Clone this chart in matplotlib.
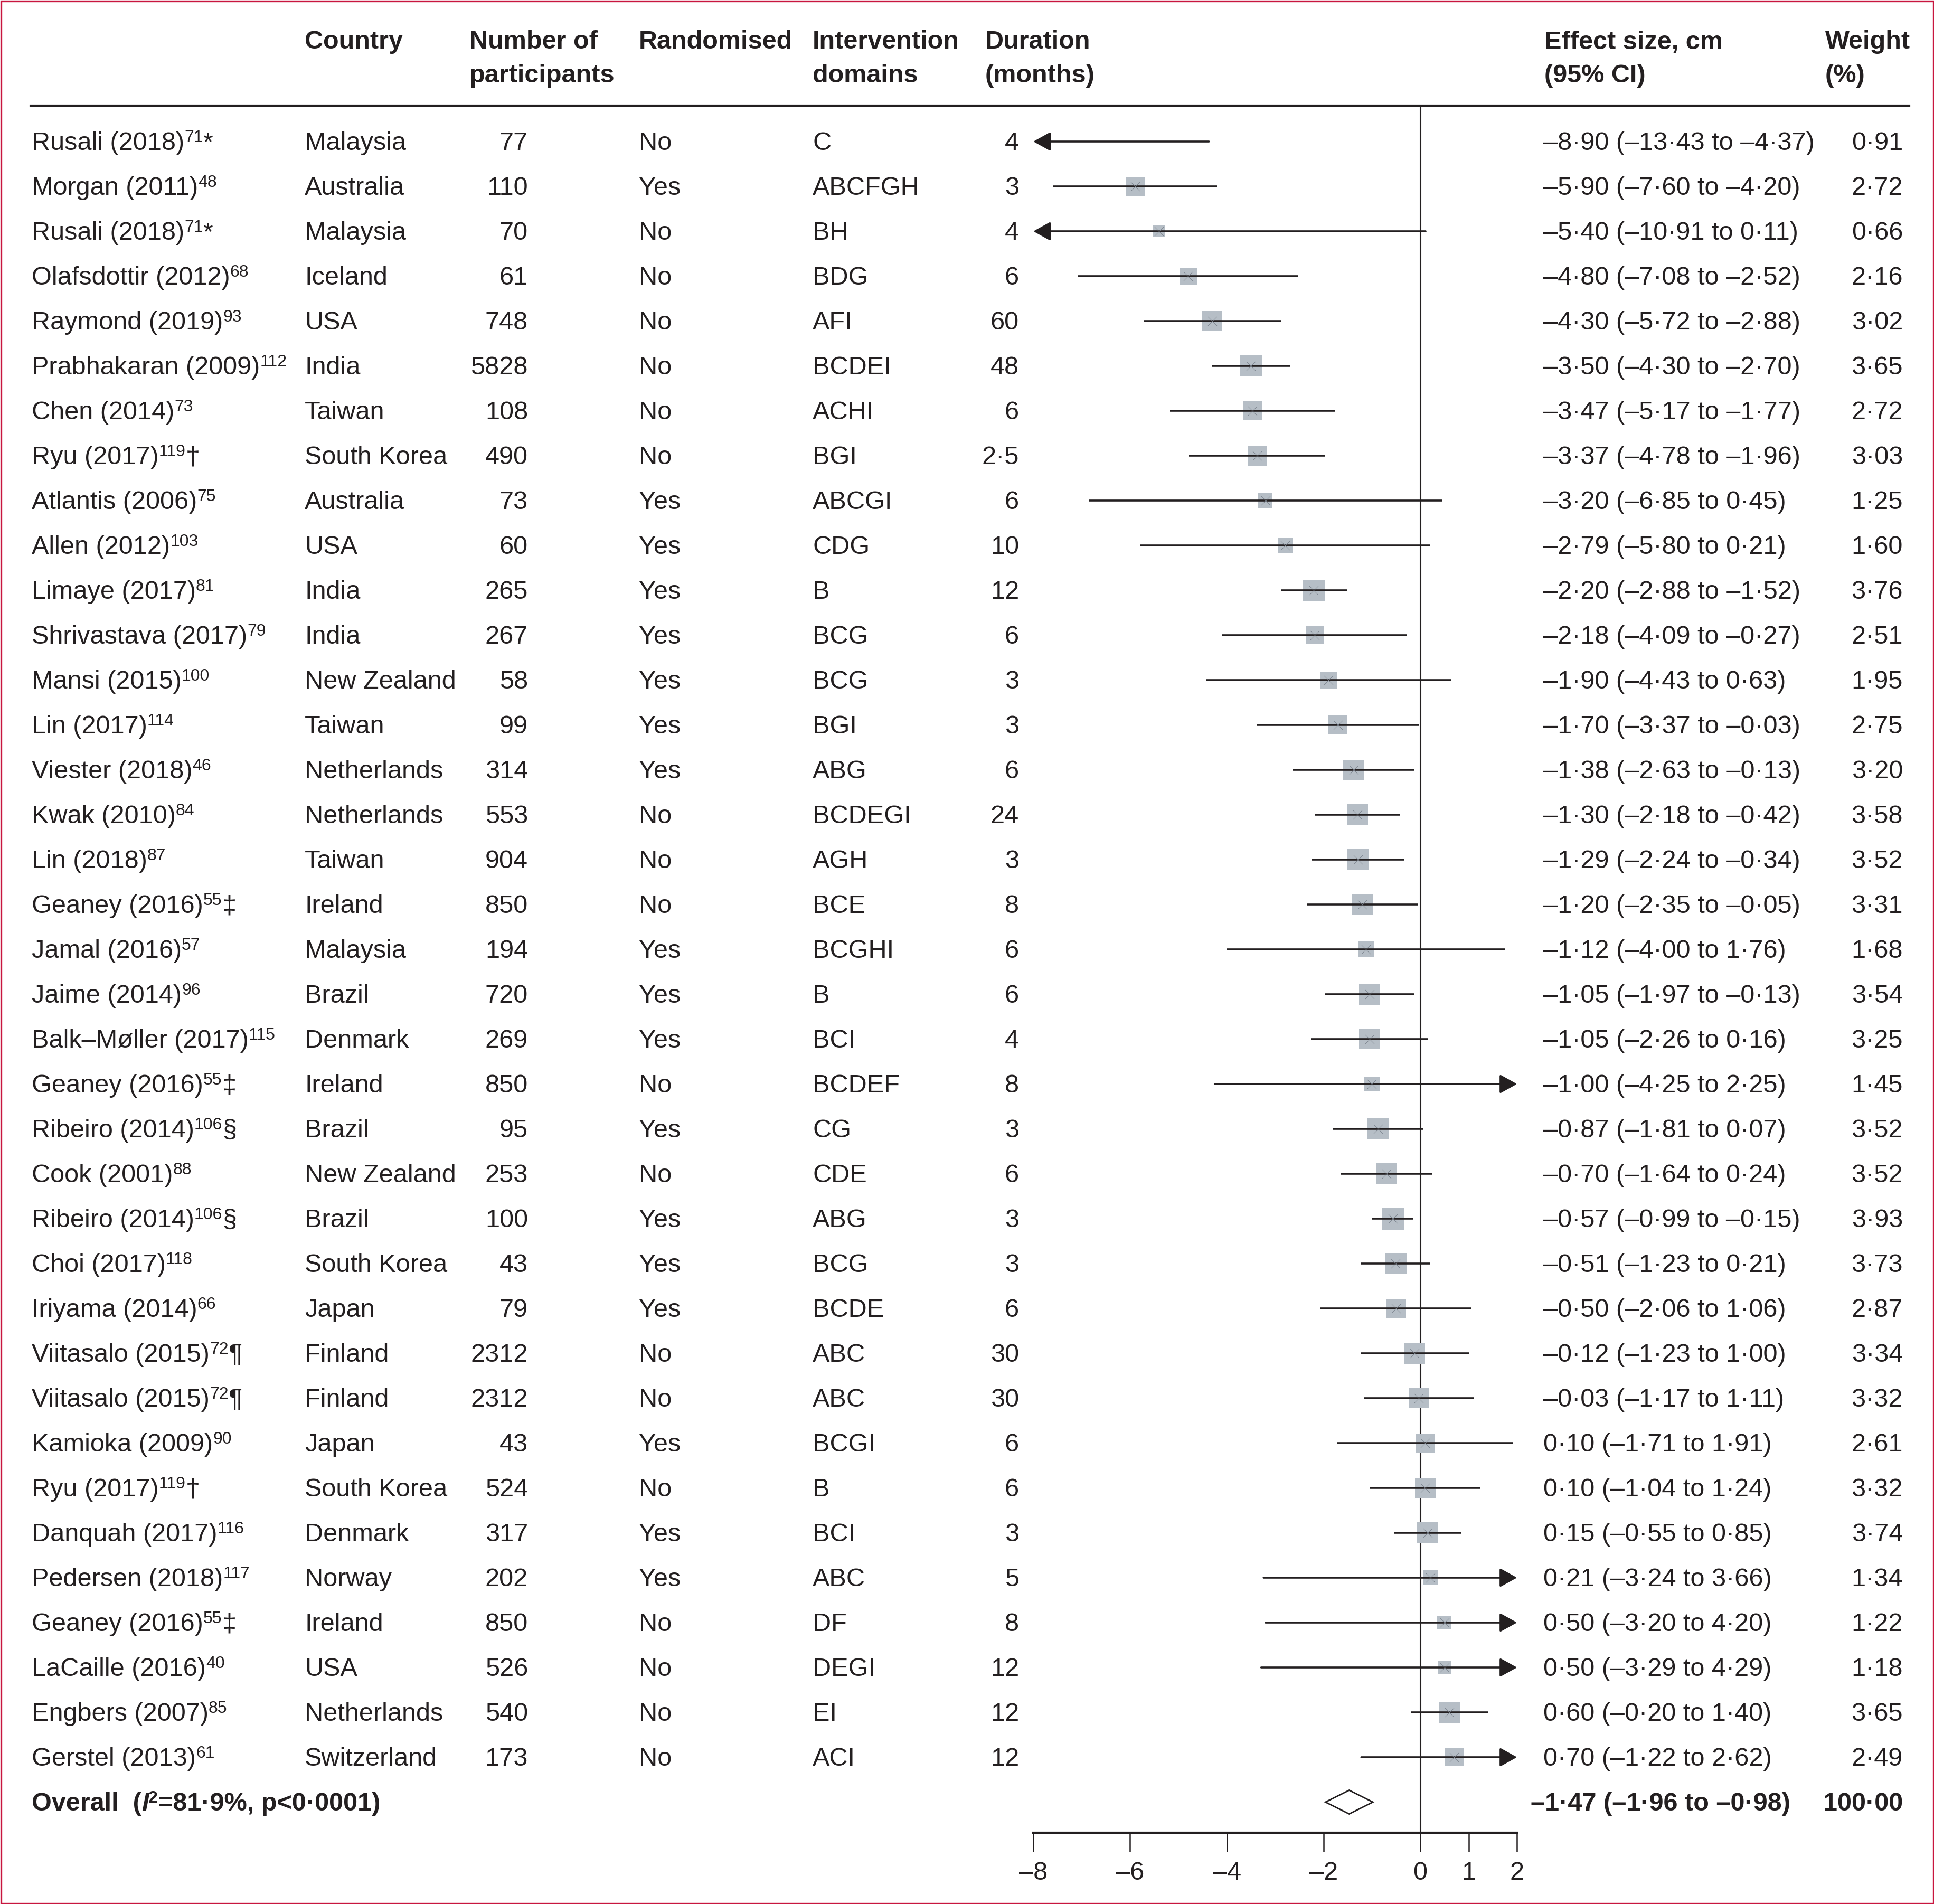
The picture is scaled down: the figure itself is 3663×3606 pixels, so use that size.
import numpy as np
import matplotlib
matplotlib.use('Agg')
import matplotlib.pyplot as plt
from matplotlib import font_manager as fm
from matplotlib.transforms import blended_transform_factory, offset_copy
from matplotlib.patches import Polygon, Rectangle
from matplotlib.ticker import FixedLocator, FuncFormatter

# ---------------- data ----------------
studies = ["Rusali (2018)", "Morgan (2011)", "Rusali (2018)", "Olafsdottir (2012)", "Raymond (2019)",
           "Prabhakaran (2009)", "Chen (2014)", "Ryu (2017)", "Atlantis (2006)", "Allen (2012)",
           "Limaye (2017)", "Shrivastava (2017)", "Mansi (2015)", "Lin (2017)", "Viester (2018)",
           "Kwak (2010)", "Lin (2018)", "Geaney (2016)", "Jamal (2016)", "Jaime (2014)",
           "Balk–Møller (2017)", "Geaney (2016)", "Ribeiro (2014)", "Cook (2001)", "Ribeiro (2014)",
           "Choi (2017)", "Iriyama (2014)", "Viitasalo (2015)", "Viitasalo (2015)", "Kamioka (2009)",
           "Ryu (2017)", "Danquah (2017)", "Pedersen (2018)", "Geaney (2016)", "LaCaille (2016)",
           "Engbers (2007)", "Gerstel (2013)"]
refs = ["71", "48", "71", "68", "93", "112", "73", "119", "75", "103", "81", "79", "100", "114", "46",
        "84", "87", "55", "57", "96", "115", "55", "106", "88", "106", "118", "66", "72", "72", "90",
        "119", "116", "117", "55", "40", "85", "61"]
marks = ["*", "", "*", "", "", "", "", "†", "", "", "", "", "", "", "", "", "", "‡", "", "", "",
         "‡", "§", "", "§", "", "", "¶", "¶", "", "†", "", "", "‡", "", "", ""]
countries = ["Malaysia", "Australia", "Malaysia", "Iceland", "USA", "India", "Taiwan", "South Korea",
             "Australia", "USA", "India", "India", "New Zealand", "Taiwan", "Netherlands", "Netherlands",
             "Taiwan", "Ireland", "Malaysia", "Brazil", "Denmark", "Ireland", "Brazil", "New Zealand",
             "Brazil", "South Korea", "Japan", "Finland", "Finland", "Japan", "South Korea", "Denmark",
             "Norway", "Ireland", "USA", "Netherlands", "Switzerland"]
participants = [77, 110, 70, 61, 748, 5828, 108, 490, 73, 60, 265, 267, 58, 99, 314, 553, 904, 850,
                194, 720, 269, 850, 95, 253, 100, 43, 79, 2312, 2312, 43, 524, 317, 202, 850, 526, 540, 173]
randomised = ["No", "Yes", "No", "No", "No", "No", "No", "No", "Yes", "Yes", "Yes", "Yes", "Yes", "Yes",
              "Yes", "No", "No", "No", "Yes", "Yes", "Yes", "No", "Yes", "No", "Yes", "Yes", "Yes", "No",
              "No", "Yes", "No", "Yes", "Yes", "No", "No", "No", "No"]
domains = ["C", "ABCFGH", "BH", "BDG", "AFI", "BCDEI", "ACHI", "BGI", "ABCGI", "CDG", "B", "BCG", "BCG",
           "BGI", "ABG", "BCDEGI", "AGH", "BCE", "BCGHI", "B", "BCI", "BCDEF", "CG", "CDE", "ABG", "BCG",
           "BCDE", "ABC", "ABC", "BCGI", "B", "BCI", "ABC", "DF", "DEGI", "EI", "ACI"]
duration = [4, 3, 4, 6, 60, 48, 6, 2.5, 6, 10, 12, 6, 3, 3, 6, 24, 3, 8, 6, 6, 4, 8, 3, 6, 3, 3, 6,
            30, 30, 6, 6, 3, 5, 8, 12, 12, 12]
effect = [-8.90, -5.90, -5.40, -4.80, -4.30, -3.50, -3.47, -3.37, -3.20, -2.79, -2.20, -2.18, -1.90,
          -1.70, -1.38, -1.30, -1.29, -1.20, -1.12, -1.05, -1.05, -1.00, -0.87, -0.70, -0.57, -0.51,
          -0.50, -0.12, -0.03, 0.10, 0.10, 0.15, 0.21, 0.50, 0.50, 0.60, 0.70]
ci_low = [-13.43, -7.60, -10.91, -7.08, -5.72, -4.30, -5.17, -4.78, -6.85, -5.80, -2.88, -4.09, -4.43,
          -3.37, -2.63, -2.18, -2.24, -2.35, -4.00, -1.97, -2.26, -4.25, -1.81, -1.64, -0.99, -1.23,
          -2.06, -1.23, -1.17, -1.71, -1.04, -0.55, -3.24, -3.20, -3.29, -0.20, -1.22]
ci_high = [-4.37, -4.20, 0.11, -2.52, -2.88, -2.70, -1.77, -1.96, 0.45, 0.21, -1.52, -0.27, 0.63,
           -0.03, -0.13, -0.42, -0.34, -0.05, 1.76, -0.13, 0.16, 2.25, 0.07, 0.24, -0.15, 0.21, 1.06,
           1.00, 1.11, 1.91, 1.24, 0.85, 3.66, 4.20, 4.29, 1.40, 2.62]
weights = [0.91, 2.72, 0.66, 2.16, 3.02, 3.65, 2.72, 3.03, 1.25, 1.60, 3.76, 2.51, 1.95, 2.75, 3.20,
           3.58, 3.52, 3.31, 1.68, 3.54, 3.25, 1.45, 3.52, 3.52, 3.93, 3.73, 2.87, 3.34, 3.32, 2.61,
           3.32, 3.74, 1.34, 1.22, 1.18, 3.65, 2.49]
overall_effect, overall_low, overall_high, overall_weight = -1.47, -1.96, -0.98, 100.00
overall_i2, overall_p = "81·9%", "p<0·0001"
xticks = [-8, -6, -4, -2, 0, 1, 2]
x_min, x_max = -8, 2
headers = [("Country", ""), ("Number of", "participants"), ("Randomised", ""),
           ("Intervention", "domains"), ("Duration", "(months)"), ("Effect size, cm", "(95% CI)"),
           ("Weight", "(%)")]

# ---------------- style / layout ----------------
avail = {f.name for f in fm.fontManager.ttflist}
main_font = 'Liberation Sans Narrow' if 'Liberation Sans Narrow' in avail else 'Liberation Sans'
plt.rcParams['font.family'] = [main_font, 'DejaVu Sans']

W, H, DPI = 3663, 3606, 100
X0_PX, PPU = 2690.0, 91.6          # pixel of x=0, pixels per unit
ROW0_PX, ROW_PX = 268.0, 85.0      # pixel of first row centre, row pitch
TXT = '#231f20'
FS = 35
SUP = 23
BASE = 0.19
BOX_C = '#b6bec6'
CROSS_C = '#78808a'

fig = plt.figure(figsize=(W / DPI, H / DPI), dpi=DPI)
ax = fig.add_axes([0, 0, 1, 1])
ax.set_xlim((0 - X0_PX) / PPU, (W - X0_PX) / PPU)
ax.set_ylim((H - ROW0_PX) / ROW_PX, (0 - ROW0_PX) / ROW_PX)
ax.patch.set_visible(False)
for s in ['top', 'left', 'right']:
    ax.spines[s].set_visible(False)

n = len(studies)
rows = np.arange(n)
overall_row = n
header_row = (200 - ROW0_PX) / ROW_PX
axis_row = (3471 - ROW0_PX) / ROW_PX

tr = blended_transform_factory(fig.transFigure, ax.transData)
renderer = fig.canvas.get_renderer()


def put(xpx, yb, s, ha='left', weight='normal', style='normal', size=FS, rise=0):
    t = offset_copy(tr, fig=fig, x=0, y=rise, units='dots') if rise else tr
    return ax.text(xpx / W, yb, s, transform=t, ha=ha, va='baseline', fontsize=size,
                   fontweight=weight, fontstyle=style, color=TXT)


def put_runs(xpx, yb, parts):
    x = xpx
    for s, kw in parts:
        t = put(x, yb, s, **kw)
        x += t.get_window_extent(renderer).width
    return x


def fmt(v, nd=2):
    return f"{v:.{nd}f}".replace('-', '–').replace('.', '·')


def fmt_dur(v):
    return str(int(v)) if float(v).is_integer() else fmt(v, 1)


# ---------------- headers ----------------
header_x = [577, 889, 1210, 1539, 1866, 2925, 3457]
yb1 = (92 - ROW0_PX) / ROW_PX
yb2 = (156 - ROW0_PX) / ROW_PX
for (l1, l2), hx in zip(headers, header_x):
    put(hx, yb1, l1, weight='bold')
    if l2:
        put(hx, yb2, l2, weight='bold')
ax.axhline(header_row, xmin=58 / W, xmax=3616 / W, color=TXT, lw=3.0)

# ---------------- table rows ----------------
for i in rows:
    yb = i + BASE
    put_runs(60, yb, [(studies[i], {}), (refs[i], dict(size=SUP, rise=15))] +
             ([(marks[i], {})] if marks[i] else []))
    put(577, yb, countries[i])
    put(1000, yb, str(participants[i]), ha='right')
    put(1210, yb, randomised[i])
    put(1539, yb, domains[i])
    put(1930, yb, fmt_dur(duration[i]), ha='right')
    put(2923, yb, f"{fmt(effect[i])} ({fmt(ci_low[i])} to {fmt(ci_high[i])})")
    put(3604, yb, fmt(weights[i]), ha='right')

yb = overall_row + BASE
put_runs(60, yb, [("Overall  (", dict(weight='bold')), ("I", dict(weight='bold', style='italic')),
                  ("2", dict(weight='bold', size=SUP, rise=15)),
                  ("=" + overall_i2 + ", " + overall_p + ")", dict(weight='bold'))])
put(2899, yb, f"{fmt(overall_effect)} ({fmt(overall_low)} to {fmt(overall_high)})", weight='bold')
put(3604, yb, fmt(overall_weight), ha='right', weight='bold')

# ---------------- forest ----------------
eff = np.array(effect)
lo = np.array(ci_low)
hi = np.array(ci_high)
w = np.array(weights)

ax.vlines(0, header_row, axis_row, color=TXT, lw=2.2, zorder=1)

side_px = 17.0 * np.sqrt(w) + 8.0
inside = (eff >= x_min) & (eff <= x_max)
ax.scatter(eff[inside], rows[inside], marker='s', s=(side_px[inside] * 72 / DPI) ** 2,
           color=BOX_C, edgecolors='none', zorder=2)
ax.scatter(eff[inside], rows[inside], marker='x', s=(17 * 72 / DPI) ** 2,
           color=CROSS_C, linewidths=0.6, zorder=4)

for i in rows:
    l, h = lo[i], hi[i]
    if l < x_min:
        ax.annotate('', xy=(x_min, i), xytext=(min(h, x_max), i),
                    arrowprops=dict(arrowstyle='-|>,head_length=0.9,head_width=0.5', mutation_scale=22,
                                    lw=2.6, color=TXT, shrinkA=0, shrinkB=0), zorder=3)
    elif h > x_max:
        ax.annotate('', xy=(x_max, i), xytext=(l, i),
                    arrowprops=dict(arrowstyle='-|>,head_length=0.9,head_width=0.5', mutation_scale=22,
                                    lw=2.6, color=TXT, shrinkA=0, shrinkB=0), zorder=3)
    else:
        ax.hlines(i, l, h, color=TXT, lw=2.6, zorder=3)

dh = 22.5 / ROW_PX
ax.add_patch(Polygon([(overall_low, overall_row), (overall_effect, overall_row - dh),
                      (overall_high, overall_row), (overall_effect, overall_row + dh)],
                     closed=True, facecolor='white', edgecolor=TXT, lw=2.0, zorder=3))

# ---------------- x axis ----------------
ax.spines['bottom'].set_position(('data', axis_row))
ax.spines['bottom'].set_bounds(x_min, x_max)
ax.spines['bottom'].set_linewidth(3.0)
ax.spines['bottom'].set_color(TXT)
ax.xaxis.set_major_locator(FixedLocator(xticks))
ax.xaxis.set_major_formatter(FuncFormatter(lambda v, p: fmt(v, 0)))
ax.tick_params(axis='x', direction='out', length=26, width=1.8, color=TXT, labelcolor=TXT,
               labelsize=FS, pad=13)
ax.set_yticks([])

# ---------------- border ----------------
fig.add_artist(Rectangle((1.5 / W, 1.5 / H), (W - 3) / W, (H - 3) / H, transform=fig.transFigure,
                         fill=False, edgecolor='#c8163f', lw=2.4))

fig.savefig('out.png', dpi=DPI)
